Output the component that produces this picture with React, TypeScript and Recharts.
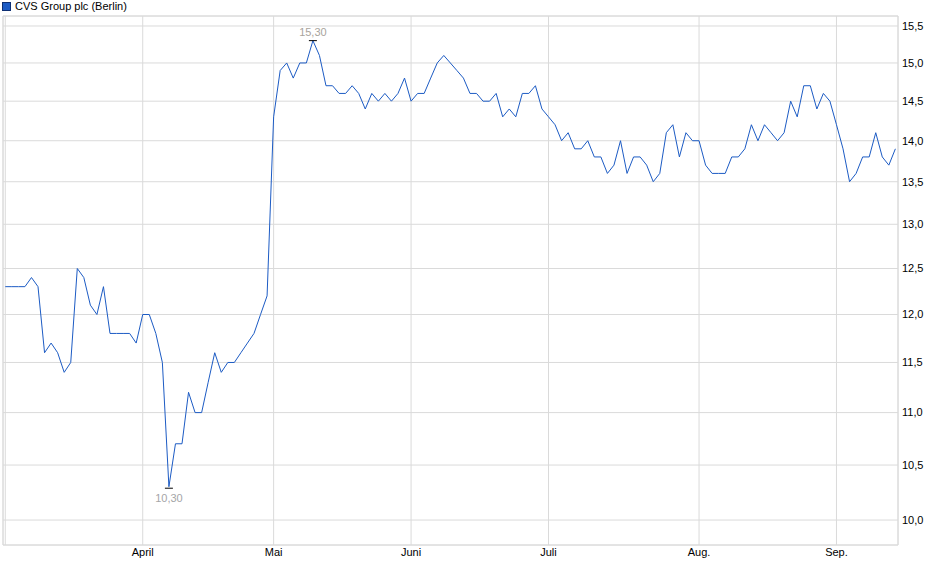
import { LineChart, Line, XAxis, YAxis, CartesianGrid, ReferenceArea } from 'recharts'

const seriesName = 'CVS Group plc (Berlin)'

// one value per trading day, early March to mid September
const prices = [
  12.3, 12.3, 12.3, 12.3, 12.4, 12.3, 11.6, 11.7, 11.6, 11.4,
  11.5, 12.5, 12.4, 12.1, 12.0, 12.3, 11.8, 11.8, 11.8, 11.8,
  11.7, 12.0, 12.0, 11.8, 11.5, 10.3, 10.7, 10.7, 11.2, 11.0,
  11.0, 11.3, 11.6, 11.4, 11.5, 11.5, 11.6, 11.7, 11.8, 12.0,
  12.2, 14.3, 14.9, 15.0, 14.8, 15.0, 15.0, 15.3, 15.1, 14.7,
  14.7, 14.6, 14.6, 14.7, 14.6, 14.4, 14.6, 14.5, 14.6, 14.5,
  14.6, 14.8, 14.5, 14.6, 14.6, 14.8, 15.0, 15.1, 15.0, 14.9,
  14.8, 14.6, 14.6, 14.5, 14.5, 14.6, 14.3, 14.4, 14.3, 14.6,
  14.6, 14.7, 14.4, 14.3, 14.2, 14.0, 14.1, 13.9, 13.9, 14.0,
  13.8, 13.8, 13.6, 13.7, 14.0, 13.6, 13.8, 13.8, 13.7, 13.5,
  13.6, 14.1, 14.2, 13.8, 14.1, 14.0, 14.0, 13.7, 13.6, 13.6,
  13.6, 13.8, 13.8, 13.9, 14.2, 14.0, 14.2, 14.1, 14.0, 14.1,
  14.5, 14.3, 14.7, 14.7, 14.4, 14.6, 14.5, 14.2, 13.9, 13.5,
  13.6, 13.8, 13.8, 14.1, 13.8, 13.7, 13.9,
]

// index of the first trading day of each month
const monthStarts = [0, 21, 41, 62, 83, 106, 127]
const monthLabels = ['', 'April', 'Mai', 'Juni', 'Juli', 'Aug.', 'Sep.']

const yTicks = [10, 10.5, 11, 11.5, 12, 12.5, 13, 13.5, 14, 14.5, 15, 15.5]
const yDomain: [number, number] = [9.781, 15.638]
const xDomain: [number, number] = [-0.35, 136.4]

const data = prices.map((price, i) => ({ i, price }))

const maxIdx = prices.indexOf(Math.max(...prices))
const minIdx = prices.indexOf(Math.min(...prices))

const fmt = (v: number, d: number) => v.toFixed(d).replace('.', ',')

const LINE_COLOR = '#1c5bc4'
const GRID = '#dadada'

function ExtremeDot(props: any) {
  const { cx, cy, index } = props
  if (index === maxIdx) {
    return (
      <g key={`ext-${index}`}>
        <line x1={cx - 4} x2={cx + 4} y1={cy} y2={cy} stroke="#000" strokeWidth={1} />
        <text x={cx} y={cy - 5} textAnchor="middle" fontSize={11} fill="#a8a39c">
          {fmt(prices[index], 2)}
        </text>
      </g>
    )
  }
  if (index === minIdx) {
    return (
      <g key={`ext-${index}`}>
        <line x1={cx - 4} x2={cx + 4} y1={cy + 1.5} y2={cy + 1.5} stroke="#000" strokeWidth={1} />
        <text x={cx} y={cy + 15} textAnchor="middle" fontSize={11} fill="#a5a5a8">
          {fmt(prices[index], 2)}
        </text>
      </g>
    )
  }
  return <g key={`ext-${index}`} />
}

export default function App() {
  return (
    <div
      style={{
        position: 'relative',
        width: 940,
        height: 579,
        fontFamily: '"Liberation Sans", Arial, sans-serif',
        background: '#fff',
      }}
    >
      <style>{'body{margin:0}'}</style>
      <div
        style={{
          position: 'absolute',
          top: 0,
          left: 2,
          display: 'flex',
          alignItems: 'center',
          fontSize: 11,
          color: '#000',
          lineHeight: '13px',
        }}
      >
        <span
          style={{
            display: 'inline-block',
            width: 7,
            height: 7,
            background: LINE_COLOR,
            border: '1px solid #0d2f73',
            marginRight: 4,
          }}
        />
        {seriesName}
      </div>
      <LineChart width={940} height={579} data={data} margin={{ top: 16, right: 0, bottom: 0, left: 3 }}>
        <CartesianGrid stroke={GRID} strokeWidth={1} />
        <XAxis
          dataKey="i"
          type="number"
          domain={xDomain}
          ticks={monthStarts}
          tickFormatter={(v: number) => monthLabels[monthStarts.indexOf(v)] ?? ''}
          allowDataOverflow
          axisLine={false}
          tickLine={false}
          tickSize={0}
          tickMargin={3}
          height={34}
          tick={{ fontSize: 11, fill: '#000' }}
        />
        <YAxis
          orientation="right"
          scale="log"
          type="number"
          domain={yDomain}
          ticks={yTicks}
          allowDataOverflow
          tickFormatter={(v: number) => fmt(v, 1)}
          axisLine={false}
          tickLine={false}
          tickSize={0}
          tickMargin={4}
          width={42}
          tick={{ fontSize: 11, fill: '#000' }}
        />
        <ReferenceArea
          x1={xDomain[0]}
          x2={xDomain[1]}
          y1={yDomain[0]}
          y2={yDomain[1]}
          fill="none"
          stroke={GRID}
          strokeWidth={1}
          ifOverflow="visible"
        />
        <Line
          type="linear"
          dataKey="price"
          name={seriesName}
          stroke={LINE_COLOR}
          strokeWidth={1}
          dot={ExtremeDot}
          activeDot={false}
          isAnimationActive={false}
        />
      </LineChart>
    </div>
  )
}
